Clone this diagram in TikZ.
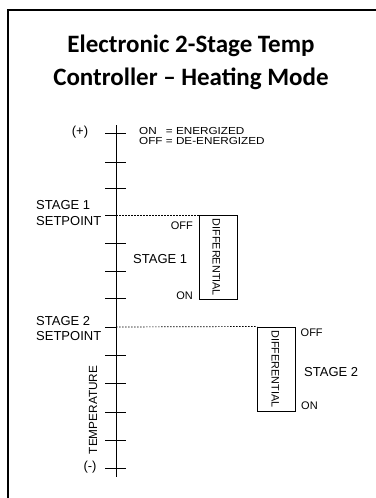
\documentclass[tikz,border=0pt]{standalone}
\usepackage{fontspec}
\setmainfont{Liberation Sans}
\newfontfamily\titlefont{Carlito}
\newfontfamily\legendfont[FakeStretch=1.15]{Liberation Sans}
\begin{document}
\begin{tikzpicture}[x=1pt,y=-1pt,
  frameline/.style={line width=2pt,line cap=rect},
  axisline/.style={line width=0.8pt},
  tickline/.style={line width=0.8pt},
  setline/.style={line width=0.7pt,dash pattern=on 1.5pt off 1.5pt},
  diffbox/.style={draw,line width=0.8pt,minimum width=38pt,inner sep=0pt},
  lab/.style={inner sep=0pt,font=\fontsize{13}{15}\selectfont},
  small/.style={inner sep=0pt,font=\fontsize{11}{13}\selectfont},
  difftext/.style={inner sep=0pt,font=\fontsize{10.8}{12}\selectfont,rotate=-90},
  legend/.style={inner sep=0pt,font=\legendfont\fontsize{10.2}{10}\selectfont},
  titletext/.style={inner sep=0pt,anchor=base,font=\titlefont\bfseries\fontsize{25}{33}\selectfont}
]
\useasboundingbox (0,0) rectangle (375,498);
\fill[white] (0,0) rectangle (375,498);
% frame
\coordinate (fbl) at (7.5,499);
\coordinate (ftl) at (7.5,10);
\coordinate (ftr) at (376,10);
\draw[frameline] (fbl) -- (ftl) -- (ftr);
% title
\node[titletext] (t1) at (191,52) {Electronic 2-Stage Temp};
\node[titletext] (t2) at (191,85) {Controller – Heating Mode};
% axis
\coordinate (atop) at (116,125);
\coordinate (abot) at (116,477);
\draw[axisline] (atop) -- (abot);
% ordinary ticks
\foreach \y in {133,162,188,243,271,298,355,383,412,440,468}{
  \draw[tickline] (105,\y) -- (126,\y);
}
% setpoint ticks and dashed lines
\coordinate (spl1) at (105,215);
\coordinate (spa1) at (116,215);
\coordinate (spl2) at (105,327);
\coordinate (spa2) at (116,327);
\draw[tickline] (spl1) -- (spa1);
\draw[tickline] (spl2) -- (spa2);
% boxes
\node[diffbox,minimum height=84pt,anchor=north west] (box1) at (199,215) {};
\node[diffbox,minimum height=84pt,anchor=north west] (box2) at (257,326.5) {};
\draw[setline] (spa1) -- (box1.north west);
\draw[setline] (spa2) -- (box2.north west);
\node[difftext] (d1) at ([xshift=-2pt]box1.center) {DIFFERENTIAL};
\node[difftext] (d2) at ([xshift=-1pt]box2.center) {DIFFERENTIAL};
% stage 1 labels
\node[small,anchor=base east] (off1) at (193,229.5) {OFF};
\node[small,anchor=base east] (on1) at (193,299) {ON};
\node[lab,anchor=base west] (st1) at (133,263.6) {STAGE 1};
% stage 2 labels
\node[small,anchor=base west] (off2) at (300.5,336) {OFF};
\node[small,anchor=base west] (on2) at (301,409.5) {ON};
\node[lab,anchor=base west] (st2) at (304,376.6) {STAGE 2};
% setpoint labels
\node[lab,anchor=base west] (s1a) at (36,209.5) {STAGE 1};
\node[lab,anchor=base west] (s1b) at (36,225.5) {SETPOINT};
\node[lab,anchor=base west] (s2a) at (36,325) {STAGE 2};
\node[lab,anchor=base west] (s2b) at (36,340) {SETPOINT};
% axis end labels
\node[lab,anchor=base] (plus) at (80,135.5) {(+)};
\node[lab,anchor=base] (minus) at (90,470.5) {(-)};
\node[inner sep=0pt,font=\fontsize{11.8}{13}\selectfont,rotate=90] (temp) at (93,410) {TEMPERATURE};
% legend
\node[legend,anchor=base west] (lg1) at (139,134) {\rlap{ON}\phantom{OFF} = ENERGIZED};
\node[legend,anchor=base west] (lg2) at (139,144) {OFF = DE-ENERGIZED};
\end{tikzpicture}
\end{document}
